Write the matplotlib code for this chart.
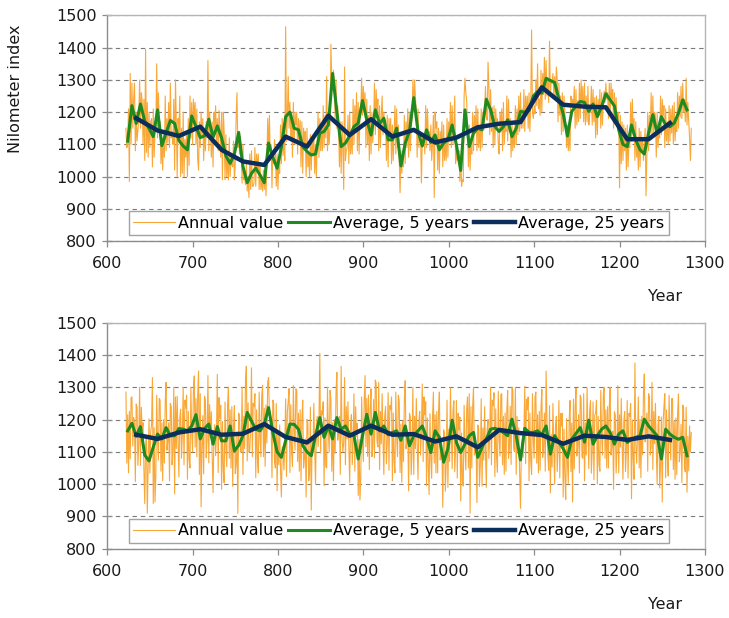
import numpy as np
import matplotlib
matplotlib.use("Agg")
import matplotlib.pyplot as plt

plt.rcParams['font.family'] = ['DejaVu Sans']

# Nilometer index, annual values 622-1284 (upper panel)
nilo_annual = [
    1150, 1090, 1100, 1210, 985, 1320, 1100, 1290, 1150, 1240,
    1290, 1080, 1200, 1110, 1145, 1180, 1300, 1150, 1260, 1235,
    1100, 1240, 1050, 1395, 1075, 1230, 1060, 1200, 1090, 1170,
    1180, 1030, 1210, 1060, 1140, 1140, 1350, 1120, 1260, 1165,
    1170, 1040, 1110, 1020, 1140, 1060, 1250, 1080, 1180, 1105,
    1230, 1090, 1290, 1120, 1140, 1100, 1240, 1020, 1300, 1165,
    1000, 1180, 1130, 1250, 1000, 1150, 1010, 1200, 1000, 1115,
    1060, 1140, 1000, 1180, 1035, 1250, 1120, 1230, 1100, 1240,
    1180, 1230, 1100, 1210, 1055, 1020, 1170, 1090, 1200, 1125,
    1180, 1050, 1150, 1080, 1170, 1120, 1360, 1080, 1200, 1130,
    1060, 1170, 1030, 1200, 1150, 1220, 1100, 1180, 1080, 1205,
    1150, 1060, 1200, 990, 1200, 1140, 990, 1130, 1000, 1060,
    990, 1120, 1000, 1060, 1035, 1030, 1110, 990, 1040, 1180,
    1260, 1090, 1140, 1070, 1125, 1090, 980, 1100, 990, 995,
    975, 1040, 955, 1000, 935, 1070, 960, 1080, 970, 970,
    980, 1090, 970, 1070, 1020, 1070, 960, 1040, 960, 995,
    955, 1020, 960, 1030, 940, 1040, 1180, 1060, 1190, 1050,
    1100, 965, 1080, 1040, 1115, 1080, 970, 1070, 960, 1050,
    1010, 1160, 1040, 1180, 1065, 1120, 1050, 1465, 1110, 1185,
    1310, 1150, 1230, 1120, 1190, 1060, 1230, 1100, 1200, 1160,
    1200, 1070, 1180, 1100, 1175, 1030, 1170, 1010, 1150, 1105,
    1140, 1000, 1150, 1030, 1070, 1000, 1130, 1020, 1120, 1065,
    1130, 1010, 1100, 1000, 1110, 1200, 1060, 1180, 1080, 1155,
    1080, 1220, 1090, 1190, 1120, 1310, 1080, 1150, 1100, 1160,
    1410, 1300, 1280, 1330, 1280, 1180, 1300, 1150, 1220, 1150,
    1030, 1170, 1010, 1170, 1085, 960, 1340, 1050, 1080, 1090,
    1190, 1040, 1200, 1070, 1130, 1070, 1240, 1100, 1220, 1145,
    1260, 1080, 1230, 1070, 1190, 1200, 1305, 1190, 1280, 1205,
    1260, 1090, 1240, 1100, 1190, 1050, 1220, 1070, 1200, 1105,
    1150, 1290, 1130, 1270, 1195, 1240, 1080, 1220, 1090, 1190,
    1250, 1130, 1200, 1150, 1175, 1050, 1190, 1030, 1180, 1120,
    1180, 1040, 1160, 1050, 1140, 1220, 1070, 1210, 1090, 1160,
    1060, 950, 1080, 1010, 1065, 1030, 1190, 1040, 1170, 1090,
    1210, 1060, 1200, 1080, 1150, 1180, 1300, 1200, 1300, 1245,
    1200, 1060, 1210, 1090, 1140, 1130, 980, 1120, 1110, 1135,
    1070, 1220, 1090, 1210, 1135, 1140, 1080, 1160, 1050, 1100,
    1190, 935, 1200, 1150, 1170, 1020, 1150, 1010, 1140, 1095,
    1170, 1030, 1160, 1050, 1110, 1050, 1180, 1060, 1170, 1110,
    1230, 1090, 1220, 1100, 1160, 1250, 1040, 1080, 1050, 1070,
    1080, 985, 1070, 970, 990, 985, 1250, 1305, 1260, 1235,
    1150, 1030, 1160, 1020, 1105, 1070, 1200, 1080, 1190, 1135,
    1220, 1080, 1210, 1090, 1150, 1080, 1210, 1090, 1200, 1145,
    1200, 1280, 1190, 1175, 1355, 1280, 1130, 1270, 1140, 1215,
    1090, 1220, 1100, 1210, 1155, 1180, 1100, 1070, 1200, 1150,
    1210, 1080, 1230, 1100, 1155, 1140, 1250, 1110, 1240, 1140,
    1180, 1060, 1170, 1080, 1130, 1090, 1220, 1100, 1210, 1130,
    1250, 1140, 1260, 1150, 1210, 1150, 1270, 1140, 1250, 1190,
    1250, 1150, 1260, 1140, 1225, 1455, 1200, 1180, 1220, 1195,
    1300, 1220, 1350, 1210, 1240, 1190, 1330, 1200, 1320, 1255,
    1370, 1240, 1360, 1250, 1305, 1230, 1420, 1250, 1300, 1290,
    1320, 1250, 1310, 1240, 1340, 1300, 1170, 1290, 1190, 1250,
    1130, 1260, 1140, 1250, 1195, 1160, 1090, 1160, 1080, 1140,
    1080, 1250, 1230, 1240, 1210, 1280, 1150, 1270, 1160, 1235,
    1170, 1290, 1180, 1300, 1225, 1280, 1170, 1290, 1160, 1250,
    1170, 1280, 1160, 1190, 1210, 1280, 1160, 1270, 1170, 1245,
    1120, 1250, 1130, 1240, 1190, 1270, 1150, 1260, 1160, 1245,
    1265, 1230, 1290, 1240, 1260, 1180, 1290, 1190, 1290, 1240,
    1270, 1150, 1260, 1170, 1245, 1180, 1190, 1200, 965, 1190,
    1040, 1170, 1050, 1160, 1080, 1150, 1020, 1160, 1030, 1105,
    1090, 1230, 1110, 1240, 1130, 1180, 1050, 1170, 1060, 1110,
    1020, 1150, 1030, 1140, 1075, 1110, 1050, 1100, 1150, 940,
    1070, 1200, 1080, 1190, 1135, 1260, 1120, 1250, 1130, 1200,
    1190, 1060, 1200, 1090, 1135, 1120, 1250, 1130, 1240, 1190,
    1220, 1090, 1210, 1110, 1170, 1100, 1220, 1110, 1210, 1135,
    1220, 1100, 1230, 1110, 1170, 1140, 1260, 1150, 1250, 1185,
    1280, 1180, 1290, 1200, 1240, 1170, 1305, 1160, 1230, 1170,
    1120, 1050, 1150,
]

nilo_avg5 = [
    1110, 1220, 1165, 1225, 1172, 1150, 1124, 1207, 1096, 1135,
    1174, 1165, 1112, 1095, 1083, 1188, 1155, 1121, 1126, 1178,
    1122, 1157, 1120, 1064, 1041, 1070, 1137, 1031, 981, 1010,
    1026, 1005, 981, 1104, 1060, 1026, 1091, 1186, 1200, 1150,
    1145, 1093, 1078, 1067, 1070, 1135, 1140, 1160, 1320, 1200,
    1093, 1104, 1126, 1155, 1166, 1236, 1176, 1129, 1207, 1164,
    1181, 1114, 1114, 1150, 1033, 1104, 1140, 1245, 1140, 1095,
    1145, 1106, 1129, 1083, 1104, 1114, 1160, 1098, 1019, 1207,
    1093, 1135, 1150, 1145, 1240, 1207, 1155, 1140, 1155, 1176,
    1124, 1150, 1202, 1200, 1205, 1250, 1264, 1259, 1305, 1298,
    1292, 1240, 1195, 1126, 1202, 1219, 1233, 1230, 1202, 1225,
    1186, 1217, 1257, 1238, 1219, 1145, 1100, 1093, 1160, 1114,
    1083, 1070, 1135, 1192, 1135, 1186, 1160, 1155, 1166, 1197,
    1238, 1207,
]

nilo_avg25 = [
    1181, 1143, 1126, 1155, 1083, 1047, 1036, 1124, 1093, 1189,
    1129, 1178, 1124, 1145, 1106, 1121, 1153, 1164, 1169, 1277,
    1223, 1217, 1215, 1116, 1116, 1166,
]

# Same annual values in shuffled order (lower panel)
shuf_annual = [
    1285, 1065, 1215, 1035, 1225, 1078, 1268, 1270, 1118, 1206,
    1188, 1008, 1248, 1238, 1058, 1128, 1300, 1058, 1238, 1166,
    1190, 1050, 940, 1120, 1150, 910, 1052, 1202, 1034, 1162,
    1185, 1330, 940, 1175, 945, 1025, 1275, 1135, 1075, 1265,
    1260, 1040, 1190, 1010, 1200, 1065, 1255, 1315, 1105, 1135,
    1190, 1010, 1250, 1240, 1060, 1100, 1300, 970, 1270, 1110,
    1272, 1132, 1022, 1202, 1232, 1080, 1150, 1300, 1060, 1260,
    1235, 1275, 1015, 1225, 1075, 1050, 1300, 1160, 1100, 1290,
    1335, 1115, 1265, 1085, 1275, 1350, 1030, 1280, 930, 1110,
    1212, 1032, 1272, 1262, 1082, 1136, 1336, 1066, 1246, 1146,
    1224, 1084, 974, 1154, 1184, 1088, 1158, 1340, 1036, 1268,
    1204, 1244, 984, 1194, 1044, 1004, 1254, 1114, 1054, 1244,
    1300, 1080, 1230, 1050, 1240, 993, 1183, 1243, 1033, 1063,
    1160, 910, 1220, 1210, 1100, 1100, 1300, 1030, 1210, 1110,
    1322, 1365, 1072, 1252, 1099, 1105, 1175, 1360, 1085, 1250,
    1240, 1280, 1020, 1230, 1080, 1035, 1285, 1145, 1085, 1275,
    1305, 1085, 1235, 1055, 1245, 1127, 1317, 1330, 1214, 1197,
    1200, 1020, 1260, 1250, 1070, 1050, 1250, 980, 1160, 1060,
    1183, 1043, 960, 1113, 1116, 1044, 1114, 1264, 1024, 1224,
    1256, 1296, 1036, 1246, 1096, 1055, 1305, 1165, 1105, 1295,
    1290, 1070, 1220, 1040, 1230, 1010, 1200, 1260, 1050, 1080,
    1140, 960, 1200, 1190, 1010, 1038, 1238, 920, 1148, 1096,
    1250, 1110, 1000, 1180, 1210, 1116, 1186, 1405, 1096, 1227,
    1215, 1255, 995, 1205, 1055, 1050, 1300, 1160, 1100, 1290,
    1260, 1040, 1190, 1010, 1200, 1096, 1286, 1346, 1136, 1166,
    1210, 1030, 1365, 1145, 1100, 1130, 1330, 1060, 1240, 1140,
    1255, 1115, 1005, 1185, 1215, 1060, 1130, 1280, 1040, 1240,
    1148, 1188, 965, 1138, 951, 1020, 1270, 1130, 1070, 1260,
    1336, 1116, 1266, 1086, 1276, 1045, 1235, 1295, 1085, 1115,
    1262, 1082, 1322, 1312, 1132, 1115, 1315, 1045, 1225, 1125,
    1280, 1140, 1030, 1210, 1240, 1063, 1133, 1283, 1043, 1243,
    1230, 1270, 1010, 1220, 1070, 1035, 1285, 1145, 1085, 1275,
    1256, 1036, 1186, 1006, 1196, 1070, 1260, 1320, 1110, 1140,
    1159, 979, 1219, 1209, 1029, 1100, 1300, 1030, 1210, 1110,
    1265, 1125, 1015, 1195, 1225, 1090, 1160, 1310, 1070, 1270,
    1215, 1255, 995, 1205, 1055, 968, 1218, 1078, 1018, 1208,
    1285, 1065, 1215, 1035, 1225, 1035, 1225, 1285, 1075, 1105,
    1108, 928, 1168, 1158, 978, 1060, 1260, 990, 1170, 1070,
    1298, 1158, 1048, 1228, 1258, 1039, 1109, 1259, 1019, 1219,
    1168, 1208, 948, 1158, 1008, 994, 1244, 1104, 1044, 1234,
    1270, 1050, 1280, 910, 1240, 1050, 1240, 1300, 1090, 1120,
    1123, 943, 1183, 1173, 993, 1064, 1264, 994, 1174, 1074,
    1240, 1100, 990, 1170, 1200, 1080, 1150, 1300, 1060, 1260,
    1243, 1283, 1023, 1233, 1083, 1037, 1287, 1147, 1087, 1277,
    1280, 1060, 1210, 1030, 1220, 1040, 1230, 1290, 1080, 1110,
    1241, 1061, 1301, 1291, 1111, 1100, 1300, 1030, 1210, 1110,
    1175, 1035, 925, 1105, 1135, 1083, 1153, 1303, 1063, 1263,
    1230, 1270, 1010, 1220, 1070, 1030, 1280, 1140, 1080, 1270,
    1285, 1065, 1215, 1035, 1225, 1043, 1233, 1293, 1083, 1113,
    1220, 1040, 1350, 1200, 1090, 1043, 1243, 973, 1153, 1053,
    1250, 1110, 1000, 1180, 1210, 1039, 1109, 1259, 1019, 1219,
    1180, 1220, 960, 1170, 1020, 953, 1203, 1063, 1003, 1193,
    1259, 1039, 1189, 945, 1263, 1047, 1237, 1297, 1087, 1117,
    1215, 1035, 1275, 1265, 1085, 1080, 1280, 1010, 1190, 1090,
    1298, 1158, 1048, 1228, 1258, 1034, 1104, 1254, 1014, 1214,
    1220, 1260, 1000, 1210, 1060, 1040, 1290, 1150, 1090, 1280,
    1300, 1080, 1230, 1050, 1240, 1050, 1240, 1300, 1090, 1120,
    1164, 984, 1224, 1214, 1034, 1105, 1305, 1035, 1215, 1115,
    1265, 1125, 1015, 1195, 1225, 1039, 1109, 1259, 1019, 1219,
    1209, 1249, 955, 1199, 1083, 1015, 1375, 1125, 1065, 1145,
    1270, 1050, 1200, 1020, 1210, 1091, 1281, 1341, 1131, 1161,
    1220, 1040, 1280, 1270, 1090, 1115, 1315, 1045, 1225, 1125,
    1250, 1110, 1000, 1180, 1210, 988, 1058, 1208, 945, 1191,
    1240, 1280, 1020, 1230, 1080, 1025, 1275, 1135, 1075, 1265,
    1265, 1045, 1195, 1015, 1205, 1029, 1219, 1279, 1069, 1099,
    1185, 1005, 1245, 1235, 1055, 1038, 1238, 975, 1148, 1041,
    1180, 1100, 1160,
]

shuf_avg5 = [
    1165, 1188, 1148, 1178, 1090, 1072, 1115, 1155, 1140, 1175,
    1150, 1150, 1172, 1170, 1165, 1180, 1215, 1140, 1172, 1186,
    1124, 1178, 1134, 1134, 1180, 1103, 1120, 1150, 1222, 1195,
    1170, 1165, 1185, 1237, 1160, 1100, 1083, 1134, 1186, 1185,
    1170, 1120, 1100, 1088, 1150, 1206, 1145, 1180, 1140, 1206,
    1170, 1180, 1155, 1150, 1078, 1150, 1216, 1155, 1222, 1165,
    1180, 1153, 1160, 1165, 1136, 1180, 1119, 1150, 1165, 1180,
    1145, 1098, 1165, 1145, 1068, 1110, 1198, 1129, 1098, 1124,
    1150, 1160, 1083, 1114, 1140, 1170, 1173, 1167, 1160, 1150,
    1201, 1150, 1075, 1173, 1160, 1160, 1165, 1153, 1180, 1093,
    1150, 1129, 1110, 1083, 1139, 1157, 1175, 1130, 1198, 1124,
    1150, 1170, 1180, 1160, 1124, 1155, 1165, 1129, 1139, 1145,
    1150, 1201, 1180, 1165, 1150, 1078, 1170, 1155, 1145, 1139,
    1145, 1088,
]

shuf_avg25 = [
    1153, 1140, 1160, 1170, 1153, 1156, 1186, 1146, 1129, 1181,
    1150, 1181, 1153, 1155, 1132, 1148, 1114, 1168, 1158, 1152,
    1125, 1150, 1146, 1137, 1148, 1137,
]

first_year = 622
yticks = [800, 900, 1000, 1100, 1200, 1300, 1400, 1500]
xticks = [600, 700, 800, 900, 1000, 1100, 1200, 1300]

C_ANNUAL = '#f9a838'
C_AVG5 = '#1f8a1f'
C_AVG25 = '#0c2e5c'
C_FRAME = '#8c8c8c'
FS = 11.5


def draw_panel(ax, annual, avg5, avg25):
    yrs = first_year + np.arange(len(annual))
    yrs5 = first_year + 2 + 5 * np.arange(len(avg5))
    yrs25 = first_year + 12 + 25 * np.arange(len(avg25))

    ax.plot(yrs, annual, color=C_ANNUAL, lw=0.8, label='Annual value')
    ax.plot(yrs5, avg5, color=C_AVG5, lw=2.2, label='Average, 5 years')
    ax.plot(yrs25, avg25, color=C_AVG25, lw=3.2, label='Average, 25 years')

    ax.set_xlim(600, 1300)
    ax.set_ylim(800, 1500)
    ax.set_xticks(xticks)
    ax.set_yticks(yticks)
    ax.tick_params(axis='both', labelsize=FS, colors=C_FRAME,
                   labelcolor='#1a1a1a')
    ax.tick_params(axis='y', direction='inout', length=7, width=0.9, pad=4)
    ax.tick_params(axis='x', direction='out', length=4, width=0.9, pad=7)
    ax.yaxis.grid(True, linestyle=(0, (4, 3.5)), color='#7a7a7a', lw=0.8)
    ax.set_axisbelow(True)
    for s in ax.spines.values():
        s.set_color(C_FRAME)
        s.set_linewidth(1.0)
    ax.spines['top'].set_color('#b5b5b5')
    ax.spines['right'].set_color('#b5b5b5')

    leg = ax.legend(loc='lower center', bbox_to_anchor=(0.488, 0.025), ncol=3,
                    fontsize=FS, frameon=True, fancybox=False,
                    handlelength=2.6, handletextpad=0.2, columnspacing=0.3,
                    borderpad=0.3, borderaxespad=0)
    leg.get_frame().set_edgecolor('#8c8c8c')
    leg.get_frame().set_linewidth(1.0)

    ax.text(0.933, -0.245, 'Year', transform=ax.transAxes, ha='center',
            va='center', fontsize=FS, color='#1a1a1a')


fig = plt.figure(figsize=(7.29, 6.18), dpi=100)
ax1 = fig.add_axes([0.147, 0.610, 0.820, 0.365])
ax2 = fig.add_axes([0.147, 0.112, 0.820, 0.366])

draw_panel(ax1, nilo_annual, nilo_avg5, nilo_avg25)
draw_panel(ax2, shuf_annual, shuf_avg5, shuf_avg25)

ax1.set_ylabel('Nilometer index', fontsize=FS, color='#1a1a1a')
ax1.yaxis.set_label_coords(-0.14, 0.675)

fig.savefig('out.png', dpi=100)
